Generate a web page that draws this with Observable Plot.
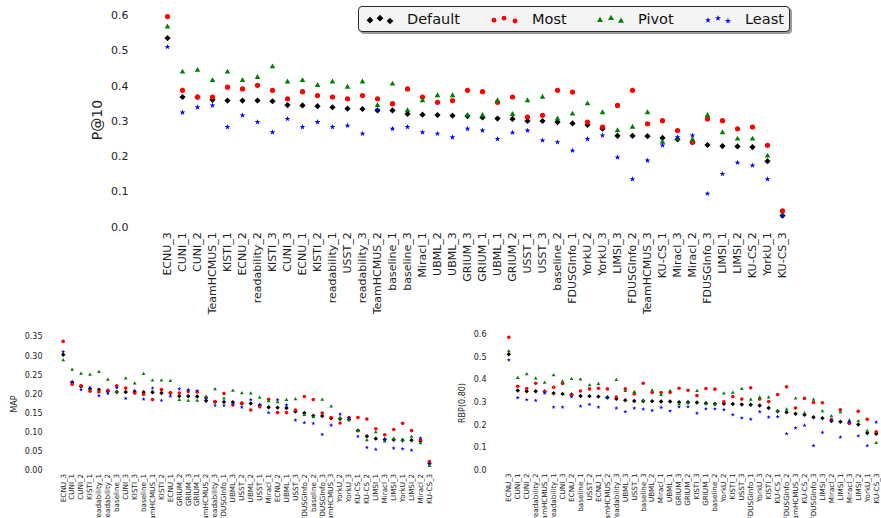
<!DOCTYPE html>
<html><head><meta charset="utf-8">
<script src="https://cdn.jsdelivr.net/npm/d3@7"></script>
<script src="https://cdn.jsdelivr.net/npm/@observablehq/plot@0.6"></script>
<style>
html,body{margin:0;padding:0;background:#fff}
body{width:881px;height:518px;overflow:hidden;position:relative;font-family:"DejaVu Sans",sans-serif;color:#222}
.panel{position:absolute}
.ylab{position:absolute;transform:translate(-50%,-50%) rotate(-90deg);white-space:nowrap;font-family:"DejaVu Sans",sans-serif;color:#222}
#legend{position:absolute;left:358px;top:6px;width:430px;height:24px;background:#f4f4f4;border:1px solid #2a2a2a;border-radius:4px;box-shadow:2px 2px 0 #9a9a9a;z-index:5}
</style></head><body>
<div id="top" class="panel" style="left:0;top:0"></div>
<div id="bl" class="panel" style="left:0;top:330px"></div>
<div id="br" class="panel" style="left:445px;top:330px"></div>
<div class="ylab" style="left:97px;top:120px;font-size:14px">P@10</div>
<div class="ylab" style="left:14px;top:404px;font-size:8px">MAP</div>
<div class="ylab" style="left:462px;top:403px;font-size:8px">RBP(0.80)</div>
<div id="legend"></div>
<script>
const seriesNames = ["Default", "Most", "Pivot", "Least"];
const seriesColors = ["#000000", "#ff0000", "#008000", "#0000ff"];
const seriesSymbols = ["diamond2", "circle", "triangle", "star"];

// ---- P@10 panel ----
const p10Cats = ["ECNU_3","CUNI_1","CUNI_2","TeamHCMUS_1","KISTI_1","ECNU_2","readability_2","KISTI_3","CUNI_3","ECNU_1","KISTI_2","readability_1","USST_2","readability_3","TeamHCMUS_2","baseline_1","baseline_3","Miracl_1","UBML_2","UBML_3","GRIUM_3","GRIUM_1","UBML_1","GRIUM_2","USST_1","USST_3","baseline_2","FDUSGInfo_1","YorkU_2","YorkU_3","LIMSI_3","FDUSGInfo_2","TeamHCMUS_3","KU-CS_1","Miracl_3","Miracl_2","FDUSGInfo_3","LIMSI_1","LIMSI_2","KU-CS_2","YorkU_1","KU-CS_3"];
const p10Default = [0.536,0.369,0.369,0.361,0.359,0.359,0.359,0.357,0.346,0.345,0.343,0.340,0.336,0.335,0.331,0.331,0.321,0.319,0.318,0.316,0.315,0.311,0.308,0.307,0.301,0.301,0.298,0.294,0.290,0.279,0.259,0.259,0.258,0.253,0.249,0.241,0.233,0.230,0.229,0.227,0.187,0.033];
const p10Most = [0.597,0.388,0.369,0.369,0.397,0.392,0.402,0.388,0.364,0.384,0.373,0.369,0.364,0.373,0.364,0.350,0.392,0.369,0.354,0.359,0.388,0.384,0.354,0.369,0.312,0.317,0.388,0.383,0.298,0.284,0.345,0.388,0.293,0.302,0.274,0.241,0.307,0.302,0.279,0.284,0.232,0.046];
const p10Pivot = [0.568,0.440,0.445,0.416,0.440,0.416,0.425,0.455,0.412,0.416,0.402,0.412,0.397,0.412,0.345,0.406,0.331,0.359,0.373,0.373,0.317,0.317,0.359,0.320,0.359,0.369,0.307,0.321,0.350,0.325,0.274,0.284,0.325,0.241,0.250,0.248,0.317,0.268,0.250,0.250,0.202,0.034];
const p10Least = [0.511,0.325,0.340,0.345,0.284,0.317,0.298,0.269,0.307,0.284,0.298,0.284,0.288,0.265,0.333,0.279,0.284,0.269,0.265,0.255,0.279,0.274,0.250,0.268,0.274,0.246,0.241,0.217,0.250,0.260,0.198,0.136,0.189,0.232,0.255,0.260,0.095,0.151,0.183,0.175,0.136,0.032];
const p10Ticks = [0, 0.1, 0.2, 0.3, 0.4, 0.5, 0.6];

// ---- MAP panel ----
const mapCats = ["ECNU_3","CUNI_1","CUNI_2","KISTI_1","readability_1","readability_2","baseline_3","CUNI_3","KISTI_3","baseline_1","TeamHCMUS_1","KISTI_2","ECNU_1","GRIUM_2","GRIUM_3","GRIUM_1","TeamHCMUS_2","readability_3","FDUSGInfo_1","UBML_3","USST_2","UBML_2","USST_1","Miracl_1","ECNU_2","UBML_1","USST_3","FDUSGInfo_2","baseline_2","FDUSGInfo_3","TeamHCMUS_3","YorkU_2","YorkU_3","KU-CS_1","KU-CS_2","LIMSI_1","Miracl_3","LIMSI_3","YorkU_1","LIMSI_2","Miracl_2","KU-CS_3"];
const mapDefault = [0.303,0.231,0.220,0.214,0.212,0.208,0.206,0.206,0.206,0.205,0.205,0.203,0.203,0.195,0.195,0.194,0.183,0.180,0.180,0.179,0.176,0.176,0.171,0.166,0.165,0.164,0.155,0.151,0.144,0.143,0.137,0.136,0.134,0.105,0.090,0.084,0.082,0.081,0.080,0.080,0.078,0.019];
const mapMost = [0.338,0.226,0.222,0.208,0.206,0.210,0.222,0.216,0.203,0.200,0.186,0.212,0.204,0.203,0.207,0.206,0.192,0.181,0.202,0.172,0.177,0.159,0.167,0.187,0.152,0.152,0.159,0.194,0.186,0.151,0.139,0.125,0.139,0.139,0.135,0.110,0.094,0.108,0.124,0.105,0.081,0.024];
const mapPivot = [0.289,0.264,0.254,0.251,0.258,0.238,0.206,0.241,0.228,0.253,0.236,0.236,0.235,0.185,0.183,0.183,0.192,0.213,0.189,0.209,0.203,0.202,0.191,0.182,0.179,0.185,0.187,0.146,0.140,0.186,0.168,0.138,0.132,0.104,0.080,0.101,0.077,0.084,0.081,0.089,0.072,0.013];
const mapLeast = [0.311,0.233,0.212,0.218,0.196,0.202,0.217,0.189,0.209,0.187,0.216,0.184,0.195,0.214,0.212,0.209,0.187,0.171,0.171,0.176,0.166,0.186,0.173,0.152,0.186,0.172,0.132,0.126,0.124,0.095,0.119,0.148,0.138,0.090,0.061,0.056,0.082,0.059,0.057,0.054,0.085,0.019];
const mapTicks = [0, 0.05, 0.10, 0.15, 0.20, 0.25, 0.30, 0.35];

// ---- RBP(0.80) panel ----
const rbpCats = ["ECNU_3","CUNI_1","CUNI_2","readability_2","TeamHCMUS_1","readability_1","CUNI_3","ECNU_2","baseline_1","USST_2","ECNU_1","TeamHCMUS_2","readability_3","UBML_3","USST_1","baseline_3","UBML_2","Miracl_1","UBML_1","GRIUM_3","GRIUM_2","KISTI_3","GRIUM_1","baseline_2","YorkU_2","KISTI_1","USST_3","FDUSGInfo_1","YorkU_3","KISTI_2","KU-CS_1","FDUSGInfo_2","TeamHCMUS_3","KU-CS_2","FDUSGInfo_3","LIMSI_3","Miracl_2","LIMSI_1","Miracl_3","LIMSI_2","YorkU_1","KU-CS_3"];
const rbpDefault = [0.513,0.353,0.350,0.350,0.349,0.341,0.338,0.335,0.329,0.328,0.326,0.322,0.316,0.310,0.307,0.307,0.306,0.304,0.304,0.301,0.301,0.300,0.297,0.294,0.294,0.293,0.291,0.290,0.287,0.276,0.261,0.257,0.250,0.246,0.235,0.231,0.218,0.215,0.209,0.203,0.165,0.162];
const rbpMost = [0.588,0.372,0.362,0.385,0.348,0.367,0.384,0.332,0.351,0.360,0.363,0.360,0.324,0.360,0.338,0.385,0.344,0.344,0.344,0.363,0.354,0.331,0.362,0.359,0.303,0.326,0.315,0.365,0.315,0.304,0.335,0.369,0.276,0.318,0.300,0.299,0.225,0.268,0.210,0.261,0.226,0.171];
const rbpPivot = [0.526,0.409,0.425,0.406,0.387,0.421,0.393,0.404,0.402,0.376,0.382,0.322,0.400,0.351,0.347,0.309,0.353,0.334,0.351,0.293,0.297,0.351,0.294,0.291,0.340,0.343,0.360,0.312,0.322,0.322,0.263,0.269,0.318,0.253,0.312,0.262,0.240,0.257,0.221,0.218,0.175,0.122];
const rbpLeast = [0.488,0.321,0.313,0.309,0.341,0.279,0.279,0.325,0.284,0.291,0.279,0.322,0.275,0.259,0.275,0.271,0.265,0.278,0.263,0.281,0.282,0.253,0.272,0.272,0.268,0.246,0.232,0.226,0.259,0.235,0.237,0.162,0.188,0.199,0.109,0.168,0.221,0.147,0.215,0.153,0.110,0.213];
const rbpTicks = [0, 0.1, 0.2, 0.3, 0.4, 0.5, 0.6];

function drawPanel(el, o) {
  const rows = (vals, name) => vals.map((v, i) => ({cat: o.cats[i], value: v, series: name}));
  const marks = [
    Plot.axisY(o.yTicks, {tickSize: 0, tickPadding: 4, tickFormat: d3.format(o.fmt), fontSize: o.yfs, label: null, fill: "#222"}),
    Plot.axisX({tickSize: 0, tickPadding: o.xpad, tickRotate: -90, fontSize: o.xfs, label: null, fill: "#222"})
  ];
  o.series.forEach((vals, s) => {
    marks.push(Plot.dot(rows(vals, seriesNames[s]), {
      x: "cat", y: "value", symbol: seriesSymbols[s], fill: seriesColors[s], r: o.r[s]
    }));
  });
  const svg = Plot.plot({
    width: o.width, height: o.height,
    marginTop: o.marginTop, marginBottom: o.marginBottom, marginLeft: o.marginLeft, marginRight: 0,
    x: {type: "point", domain: o.cats, range: o.xRange, padding: 0},
    y: {domain: o.yDomain},
    style: {fontFamily: "DejaVu Sans", background: "transparent"},
    marks
  });
  el.appendChild(svg);
}

drawPanel(document.getElementById("top"), {
  cats: p10Cats, series: [p10Default, p10Most, p10Pivot, p10Least],
  yTicks: p10Ticks, yDomain: [0, 0.6], fmt: ".1f",
  width: 881, height: 330, marginTop: 15, marginBottom: 103.3, marginLeft: 132,
  xRange: [164.3, 784], yfs: 11, xfs: 11, xpad: 5, r: [2.8, 2.6, 2.1, 1.8]
});
drawPanel(document.getElementById("bl"), {
  cats: mapCats, series: [mapDefault, mapMost, mapPivot, mapLeast],
  yTicks: mapTicks, yDomain: [0, 0.35], fmt: ".2f",
  width: 445, height: 188, marginTop: 6.3, marginBottom: 47.7, marginLeft: 46,
  xRange: [62.7, 428.9], yfs: 8, xfs: 7.2, xpad: 3, r: [2.0, 1.8, 1.4, 1.3]
});
drawPanel(document.getElementById("br"), {
  cats: rbpCats, series: [rbpDefault, rbpMost, rbpPivot, rbpLeast],
  yTicks: rbpTicks, yDomain: [0, 0.6], fmt: ".1f",
  width: 436, height: 188, marginTop: 4, marginBottom: 48, marginLeft: 45,
  xRange: [63.3, 430.7], yfs: 8, xfs: 7.2, xpad: 3, r: [2.0, 1.8, 1.4, 1.3]
});

// ---- legend ----
const legendOffsets = [1.2, -0.8, 2.0];
const legendMarkerX = [[11, 21, 31], [135, 145, 156], [241, 252, 262], [349, 359, 369]];
const legendTextX = [48, 173, 279, 386];
const legendR = [3.0, 2.4, 2.2, 1.9];
const lsvg = d3.select("#legend").append("svg").attr("width", 430).attr("height", 24).style("display", "block");
seriesNames.forEach((name, s) => {
  const sym = d3.symbol().type({diamond2: d3.symbolDiamond2, circle: d3.symbolCircle, triangle: d3.symbolTriangle, star: d3.symbolStar}[seriesSymbols[s]]).size(Math.PI * legendR[s] * legendR[s]);
  legendMarkerX[s].forEach((x, k) => {
    lsvg.append("path").attr("d", sym()).attr("fill", seriesColors[s]).attr("transform", `translate(${x},${12 + legendOffsets[k]})`);
  });
  lsvg.append("text").attr("x", legendTextX[s]).attr("y", 17.4).attr("font-size", 14.5).attr("font-family", "DejaVu Sans").attr("fill", "#111").text(name);
});
</script>
</body></html>
